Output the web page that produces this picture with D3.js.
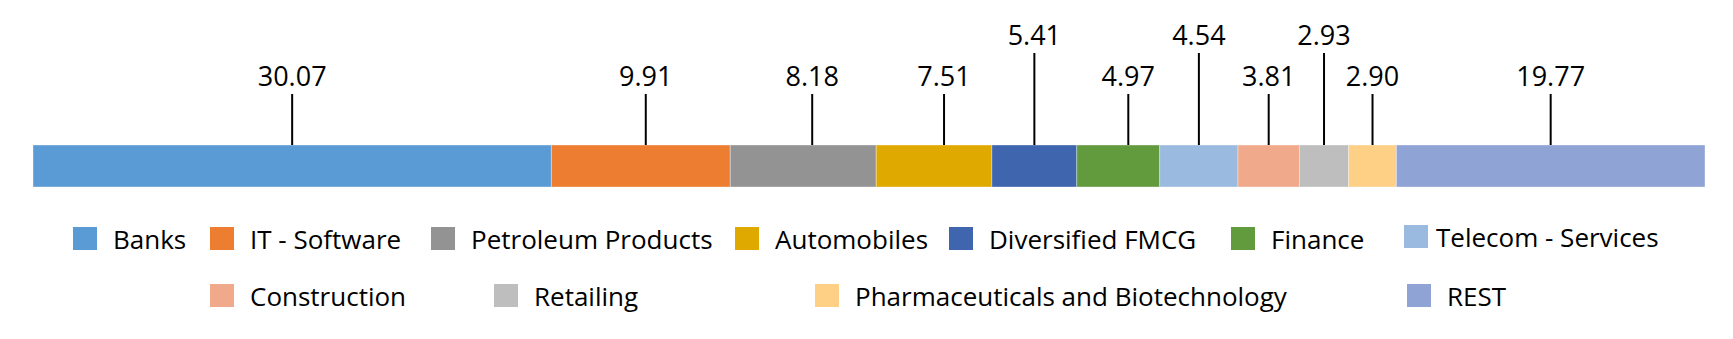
<!DOCTYPE html>
<html>
<head>
<meta charset="utf-8">
<script src="https://cdn.jsdelivr.net/npm/d3@7"></script>
<style>
  html, body { margin: 0; padding: 0; background: #fff; }
  svg { display: block; font-family: "Open Sans", "Noto Sans", sans-serif; }
</style>
</head>
<body>
<svg id="chart" width="1733" height="339"></svg>
<script>
// ---- data ----
const categories = ["Banks", "IT - Software", "Petroleum Products", "Automobiles", "Diversified FMCG",
  "Finance", "Telecom - Services", "Construction", "Retailing", "Pharmaceuticals and Biotechnology", "REST"];
// segment sizes as drawn (share of bar, %)
const weights = [31.0, 10.7, 8.73, 6.92, 5.08, 4.96, 4.68, 3.67, 2.95, 2.85, 18.46];
// data label texts
const valueLabels = ["30.07", "9.91", "8.18", "7.51", "5.41", "4.97", "4.54", "3.81", "2.93", "2.90", "19.77"];
const colors = ["#5B9BD5", "#ED7D31", "#939393", "#E0A900", "#3E65AE", "#629A3E",
  "#9ABADF", "#F0A98B", "#BEBEBE", "#FED085", "#8FA3D4"];

// ---- layout ----
const labelLevel = [0, 0, 0, 0, 1, 0, 1, 0, 1, 0, 0];   // 1 = upper row
const labelNudge = [0, 5, 9, 10, 0, 10, 0, 0, 0, 0, 0]; // px shift of leader/label
const legendX   = [73, 210, 431, 735, 949, 1231, 1404, 210, 494, 815, 1407];
const legendRow = [0, 0, 0, 0, 0, 0, 0, 1, 1, 1, 1];
const legendTextGap = [16, 16, 16, 16, 16, 16, 8, 16, 16, 16, 16];
const legendDy  = [0, 0, 0, 0, 0, 0, -2, 0, 0, 0, 0];

const svg = d3.select("#chart");
const x = d3.scaleLinear().domain([0, d3.sum(weights)]).range([33, 1705]);
const barTop = 145, barBottom = 187;

let cum = 0;
const segs = categories.map((c, i) => {
  const s = { name: c, start: cum, end: cum + weights[i], label: valueLabels[i], color: colors[i], i };
  cum += weights[i];
  return s;
});

svg.append("g").selectAll("rect").data(segs).join("rect")
  .attr("x", d => x(d.start))
  .attr("y", barTop)
  .attr("width", d => x(d.end) - x(d.start))
  .attr("height", barBottom - barTop)
  .attr("fill", d => d.color)
  .attr("stroke", "rgba(255,255,255,0.45)")
  .attr("stroke-width", 0.8);

const lab = svg.append("g");
segs.forEach(d => {
  const cx = (x(d.start) + x(d.end)) / 2 + labelNudge[d.i];
  const up = labelLevel[d.i] === 1;
  const lineTop = up ? 53 : 94;
  const baseline = up ? 45 : 86;
  lab.append("line")
    .attr("x1", cx).attr("x2", cx)
    .attr("y1", lineTop).attr("y2", barTop)
    .attr("stroke", "#000").attr("stroke-width", 2);
  lab.append("text")
    .attr("x", cx).attr("y", baseline)
    .attr("text-anchor", "middle")
    .attr("font-size", 27)
    .attr("fill", "#000")
    .text(d.label);
});

// ---- legend ----
const sw = 24, fs = 26;
const leg = svg.append("g").selectAll("g").data(segs).join("g")
  .attr("transform", d => `translate(${legendX[d.i]},${(legendRow[d.i] ? 284 : 227) + legendDy[d.i]})`);
leg.append("rect").attr("x", 0).attr("y", 0).attr("width", sw).attr("height", sw - 1).attr("fill", d => d.color);
leg.append("text").attr("x", d => sw + legendTextGap[d.i]).attr("y", 22)
  .attr("font-size", fs).attr("fill", "#000").text(d => d.name);
</script>
</body>
</html>
